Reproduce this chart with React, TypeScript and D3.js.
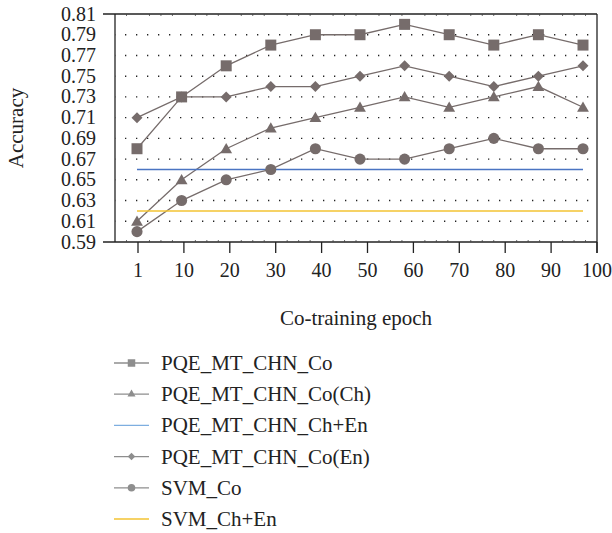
import React from 'react';
import * as d3 from 'd3';

const epochs = ['1', '10', '20', '30', '40', '50', '60', '70', '80', '90', '100'];
const yTicks = [0.59, 0.61, 0.63, 0.65, 0.67, 0.69, 0.71, 0.73, 0.75, 0.77, 0.79, 0.81];

const coValues = [0.68, 0.73, 0.76, 0.78, 0.79, 0.79, 0.8, 0.79, 0.78, 0.79, 0.78];
const coChValues = [0.61, 0.65, 0.68, 0.7, 0.71, 0.72, 0.73, 0.72, 0.73, 0.74, 0.72];
const chEnValues = [0.66, 0.66, 0.66, 0.66, 0.66, 0.66, 0.66, 0.66, 0.66, 0.66, 0.66];
const coEnValues = [0.71, 0.73, 0.73, 0.74, 0.74, 0.75, 0.76, 0.75, 0.74, 0.75, 0.76];
const svmCoValues = [0.6, 0.63, 0.65, 0.66, 0.68, 0.67, 0.67, 0.68, 0.69, 0.68, 0.68];
const svmChEnValues = [0.62, 0.62, 0.62, 0.62, 0.62, 0.62, 0.62, 0.62, 0.62, 0.62, 0.62];

const seriesNames = [
  'PQE_MT_CHN_Co',
  'PQE_MT_CHN_Co(Ch)',
  'PQE_MT_CHN_Ch+En',
  'PQE_MT_CHN_Co(En)',
  'SVM_Co',
  'SVM_Ch+En',
];

const FONT = '"Liberation Serif", "Times New Roman", serif';
const MARK = '#766c6b';
const LEG = '#8e8e8e';

const series = [
  { name: seriesNames[0], values: coValues, color: MARK, legColor: LEG, marker: 'square' },
  { name: seriesNames[1], values: coChValues, color: MARK, legColor: LEG, marker: 'triangle' },
  { name: seriesNames[2], values: chEnValues, color: '#4a74c2', legColor: '#7eaee0', marker: null },
  { name: seriesNames[3], values: coEnValues, color: MARK, legColor: LEG, marker: 'diamond' },
  { name: seriesNames[4], values: svmCoValues, color: MARK, legColor: LEG, marker: 'circle' },
  { name: seriesNames[5], values: svmChEnValues, color: '#f3c332', legColor: '#f3c332', marker: null },
];

const left = 115;
const right = 597;
const top = 14;
const bottom = 242;

const y = d3.scaleLinear().domain([0.59, 0.81]).range([bottom, top]);
const xPt = d3.scalePoint<string>().domain(epochs).range([137, 583]);
const xTick = d3.scalePoint<string>().domain(epochs).range([138, 597]);

// diamond with equal width and height
const diamondSym = {
  draw(ctx: any, size: number) {
    const r = Math.sqrt(size / 2);
    ctx.moveTo(0, -r);
    ctx.lineTo(r, 0);
    ctx.lineTo(0, r);
    ctx.lineTo(-r, 0);
    ctx.closePath();
  },
};

const markerPath = (type: string | null, s: number) => {
  if (type === 'square') return d3.symbol(d3.symbolSquare, s * s)();
  if (type === 'triangle') return d3.symbol(d3.symbolTriangle, s * s * 0.5)();
  if (type === 'diamond') return d3.symbol(diamondSym, s * s * 0.5)();
  if (type === 'circle') return d3.symbol(d3.symbolCircle, s * s * 0.8)();
  return null;
};

const App = () => {
  const line = d3
    .line<number>()
    .x((_, i) => xPt(epochs[i]) as number)
    .y((d) => y(d));

  const minorTicks: number[] = [];
  for (let i = 0; i < epochs.length - 1; i++) {
    const a = xTick(epochs[i]) as number;
    const b = xTick(epochs[i + 1]) as number;
    for (let k = 1; k < 4; k++) minorTicks.push(a + ((b - a) * k) / 4);
  }
  minorTicks.push(left + 11.5);

  return (
    <svg
      width={612}
      height={533}
      style={{ position: 'absolute', left: 0, top: 0, background: '#fff' }}
      fontFamily={FONT}
    >
      {/* dotted gridlines */}
      {yTicks.slice(1, -1).map((t) => (
        <line
          key={t}
          x1={left}
          x2={right}
          y1={y(t)}
          y2={y(t)}
          stroke="#222"
          strokeWidth={1.4}
          strokeDasharray="1.3 9.7"
          strokeDashoffset={-10}
        />
      ))}

      {/* frame */}
      <line x1={103} x2={right} y1={top} y2={top} stroke="#222" strokeWidth={1.3} />
      <line x1={103} x2={right} y1={bottom} y2={bottom} stroke="#222" strokeWidth={1.3} />
      <line x1={left} x2={left} y1={top} y2={bottom} stroke="#222" strokeWidth={1.3} />
      <line x1={right} x2={right} y1={top} y2={bottom + 11} stroke="#222" strokeWidth={1.3} />

      {/* minor ticks */}
      {minorTicks.map((mx, i) => (
        <g key={i}>
          <line x1={mx} x2={mx} y1={bottom} y2={bottom - 2} stroke="#444" strokeWidth={0.8} />
          <line x1={mx} x2={mx} y1={top} y2={top + 2} stroke="#444" strokeWidth={0.8} />
        </g>
      ))}

      {/* x ticks */}
      {epochs.map((e) => (
        <g key={e}>
          <line
            x1={xTick(e)}
            x2={xTick(e)}
            y1={bottom}
            y2={bottom + 11}
            stroke="#222"
            strokeWidth={1.3}
          />
          <text x={xTick(e)} y={277} textAnchor="middle" fontSize={20} fill="#222">
            {e}
          </text>
        </g>
      ))}

      {/* y labels */}
      {yTicks.map((t) => (
        <text key={t} x={96} y={y(t) + 6.5} textAnchor="end" fontSize={20} fill="#222">
          {t.toFixed(2)}
        </text>
      ))}

      <text
        transform="translate(23,128) rotate(-90)"
        textAnchor="middle"
        fontSize={21}
        fill="#222"
      >
        Accuracy
      </text>
      <text x={356} y={325} textAnchor="middle" fontSize={21} fill="#222">
        Co-training epoch
      </text>

      {/* series */}
      {series.map((s) => (
        <g key={s.name}>
          <path d={line(s.values) || ''} fill="none" stroke={s.color} strokeWidth={s.marker ? 1.3 : 1.5} />
          {s.marker &&
            s.values.map((v, i) => (
              <path
                key={i}
                d={markerPath(s.marker, 11) || ''}
                transform={`translate(${xPt(epochs[i])},${y(v) + (s.marker === 'triangle' ? 1 : 0)})`}
                fill={s.color}
              />
            ))}
        </g>
      ))}

      {/* legend */}
      {series.map((s, i) => {
        const ly = 363 + i * 31.2;
        return (
          <g key={s.name}>
            <line x1={114} x2={149} y1={ly} y2={ly} stroke={s.legColor} strokeWidth={1.3} />
            {s.marker && (
              <path
                d={markerPath(s.marker, 7.5) || ''}
                transform={`translate(131.5,${ly})`}
                fill={s.legColor}
              />
            )}
            <text x={161} y={ly + 7} fontSize={21} fill="#222">
              {s.name}
            </text>
          </g>
        );
      })}
    </svg>
  );
};

export default App;
